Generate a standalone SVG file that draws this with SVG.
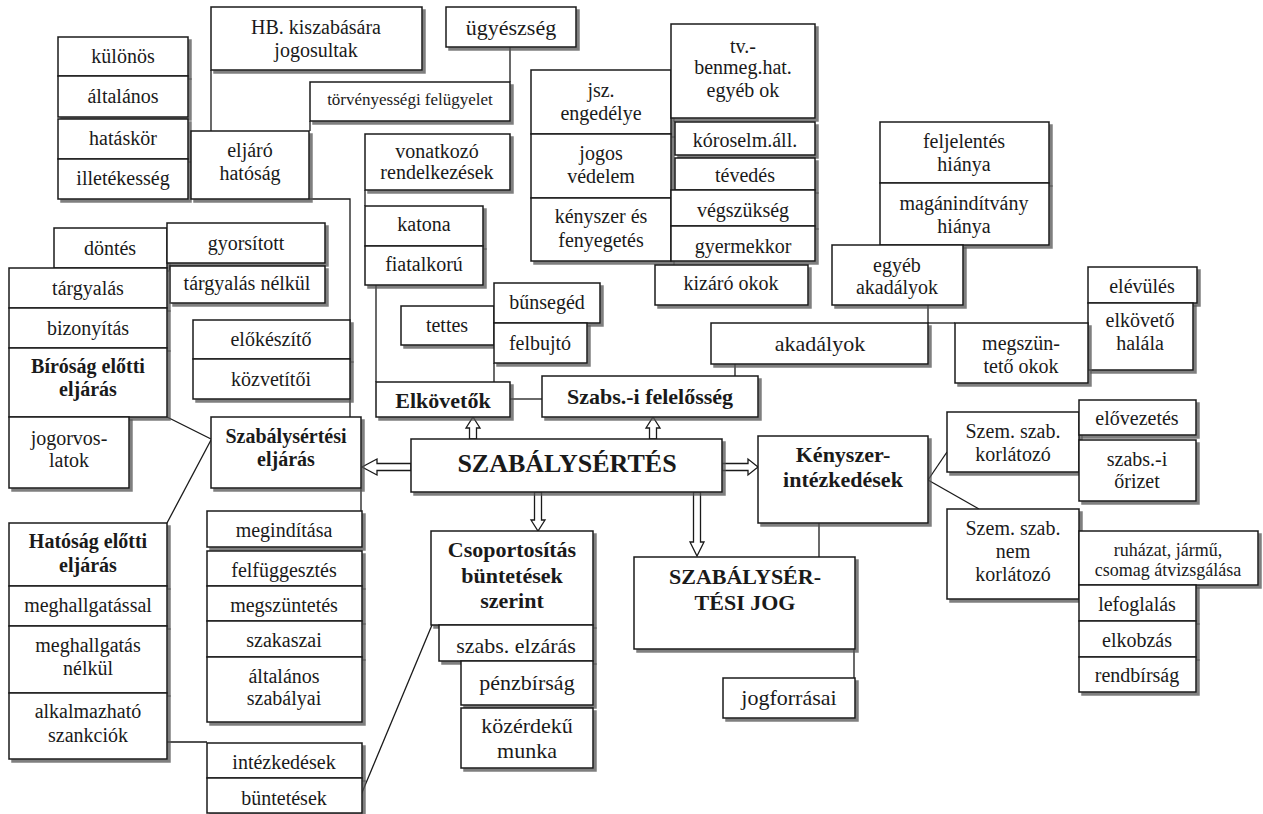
<svg xmlns="http://www.w3.org/2000/svg" width="1263" height="814" viewBox="0 0 1263 814">
<defs>
<filter id="sh" x="-5%" y="-5%" width="115%" height="130%">
<feDropShadow dx="3" dy="3" stdDeviation="0.6" flood-color="#555" flood-opacity="0.75"/>
</filter>
<style>
.b{fill:#fff;stroke:#1a1a1a;stroke-width:1.5;filter:url(#sh)}
.c line,.c polyline{stroke:#1a1a1a;stroke-width:1.3;fill:none}
.c polygon{fill:#fff;stroke:#1a1a1a;stroke-width:1.3}
text{font-family:"Liberation Serif","Times New Roman",serif;font-size:20px;fill:#1a1a1a;text-anchor:middle}
.l{font-size:22px}
.s{font-size:17px}
.m{font-size:18px}
.h{font-weight:bold}
.h2{font-weight:bold;font-size:22px}
.h3{font-weight:bold;font-size:26px}
</style>
</defs>
<rect width="1263" height="814" fill="#fff"/>
<g id="connectors" class="c">
<line x1="211" y1="70" x2="211" y2="131"/>
<line x1="510" y1="47" x2="510" y2="82"/>
<line x1="310" y1="121" x2="310" y2="131"/>
<polyline points="309,199 350,199 350,417"/>
<line x1="365" y1="190" x2="365" y2="206"/>
<line x1="376" y1="285" x2="376" y2="382"/>
<line x1="494" y1="363" x2="494" y2="382"/>
<line x1="510" y1="399" x2="542" y2="399"/>
<line x1="735" y1="364" x2="735" y2="376"/>
<line x1="928" y1="305" x2="928" y2="323"/>
<line x1="928" y1="323" x2="955" y2="323"/>
<line x1="167" y1="417" x2="211" y2="439"/>
<line x1="211" y1="440" x2="167" y2="523"/>
<line x1="361" y1="488" x2="361" y2="511"/>
<line x1="167" y1="742" x2="207" y2="742"/>
<line x1="361" y1="795" x2="432" y2="625"/>
<line x1="928" y1="480" x2="947" y2="452"/>
<line x1="928" y1="480" x2="979" y2="509"/>
<line x1="819" y1="523" x2="819" y2="557"/>
<line x1="854" y1="649" x2="854" y2="678"/>
<polygon points="411,463.5 377,463.5 377,459 362,467 377,475 377,470.5 411,470.5"/>
<polygon points="722,463.5 748,463.5 748,459 758,467 748,475 748,470.5 722,470.5"/>
<polygon points="469.5,439 469.5,428 466,428 473,417 480,428 476.5,428 476.5,439"/>
<polygon points="649.5,439 649.5,428 646,428 653,417 660,428 656.5,428 656.5,439"/>
<polygon points="534.5,492 534.5,520 531,520 538,531 545,520 541.5,520 541.5,492"/>
<polygon points="693.5,492 693.5,542 690,542 697,556 704,542 700.5,542 700.5,492"/>
</g>
<g id="n_hb"><rect class="b" x="211" y="7" width="211" height="63"/><text x="316" y="34">HB. kiszabására</text><text x="316" y="57">jogosultak</text></g>
<g id="n_ugyeszseg"><rect class="b" x="446" y="7" width="130" height="40"/><text class="l" x="511" y="35">ügyészség</text></g>
<g id="n_torv"><rect class="b" x="310" y="82" width="200" height="39"/><text class="s" x="410" y="105">törvényességi felügyelet</text></g>
<g id="n_kulonos"><rect class="b" x="58" y="37" width="130" height="39"/><text x="123" y="63">különös</text></g>
<g id="n_altalanos"><rect class="b" x="58" y="76" width="130" height="41"/><text x="123" y="103">általános</text></g>
<g id="n_hataskor"><rect class="b" x="58" y="119" width="130" height="40"/><text x="123" y="145">hatáskör</text></g>
<g id="n_illetekesseg"><rect class="b" x="58" y="159" width="130" height="40"/><text x="123" y="185">illetékesség</text></g>
<g id="n_eljaro"><rect class="b" x="191" y="131" width="118" height="68"/><text x="250" y="157">eljáró</text><text x="250" y="180">hatóság</text></g>
<g id="n_vonatkozo"><rect class="b" x="365" y="134" width="145" height="56"/><text x="437" y="158">vonatkozó</text><text x="437" y="179">rendelkezések</text></g>
<g id="n_katona"><rect class="b" x="365" y="206" width="118" height="40"/><text x="424" y="231">katona</text></g>
<g id="n_fiatalkoru"><rect class="b" x="365" y="246" width="118" height="39"/><text x="424" y="271">fiatalkorú</text></g>
<g id="n_jsz"><rect class="b" x="531" y="70" width="140" height="64"/><text x="601" y="97">jsz.</text><text x="601" y="120">engedélye</text></g>
<g id="n_jogos"><rect class="b" x="531" y="134" width="140" height="64"/><text x="601" y="160">jogos</text><text x="601" y="183">védelem</text></g>
<g id="n_kenyszer_fenyegetes"><rect class="b" x="531" y="198" width="140" height="63"/><text x="601" y="223">kényszer és</text><text x="601" y="247">fenyegetés</text></g>
<g id="n_tv"><rect class="b" x="671" y="24" width="144" height="94"/><text x="743" y="53">tv.-</text><text x="743" y="74">benmeg.hat.</text><text x="743" y="97">egyéb ok</text></g>
<g id="n_koros"><rect class="b" x="675" y="122" width="140" height="33"/><text x="745" y="147">kóroselm.áll.</text></g>
<g id="n_tevedes"><rect class="b" x="675" y="158" width="140" height="32"/><text x="745" y="182">tévedés</text></g>
<g id="n_vegszukseg"><rect class="b" x="671" y="190" width="144" height="36"/><text x="743" y="217">végszükség</text></g>
<g id="n_gyermekkor"><rect class="b" x="671" y="226" width="144" height="35"/><text x="743" y="253">gyermekkor</text></g>
<g id="n_kizaro"><rect class="b" x="655" y="265" width="153" height="40"/><text x="731" y="290">kizáró okok</text></g>
<g id="n_feljelentes"><rect class="b" x="880" y="122" width="169" height="61"/><text x="964" y="148">feljelentés</text><text x="964" y="171">hiánya</text></g>
<g id="n_maganinditvany"><rect class="b" x="880" y="183" width="169" height="62"/><text x="964" y="210">magánindítvány</text><text x="964" y="233">hiánya</text></g>
<g id="n_egyeb"><rect class="b" x="832" y="245" width="131" height="60"/><text x="897" y="272">egyéb</text><text x="897" y="294">akadályok</text></g>
<g id="n_elevules"><rect class="b" x="1088" y="267" width="109" height="36"/><text x="1142" y="293">elévülés</text></g>
<g id="n_elkoveto_halala"><rect class="b" x="1088" y="303" width="105" height="67"/><text x="1140" y="327">elkövető</text><text x="1140" y="350">halála</text></g>
<g id="n_megszunteto"><rect class="b" x="955" y="323" width="133" height="60"/><text x="1021" y="350">megszün-</text><text x="1021" y="373">tető okok</text></g>
<g id="n_akadalyok"><rect class="b" x="711" y="323" width="217" height="41"/><text class="l" x="820" y="351">akadályok</text></g>
<g id="n_szabsfelelosseg"><rect class="b" x="542" y="376" width="216" height="41"/><text class="h2" x="650" y="404">Szabs.-i felelősség</text></g>
<g id="n_tettes"><rect class="b" x="401" y="306" width="93" height="39"/><text x="447" y="332">tettes</text></g>
<g id="n_bunseged"><rect class="b" x="494" y="283" width="106" height="40"/><text x="547" y="309">bűnsegéd</text></g>
<g id="n_felbujto"><rect class="b" x="494" y="323" width="93" height="40"/><text x="540" y="350">felbujtó</text></g>
<g id="n_elkovetok"><rect class="b" x="376" y="382" width="134" height="35"/><text class="h2" x="443" y="408">Elkövetők</text></g>
<g id="n_dontes"><rect class="b" x="54" y="228" width="113" height="40"/><text x="110" y="255">döntés</text></g>
<g id="n_gyorsitott"><rect class="b" x="167" y="223" width="158" height="40"/><text x="246" y="250">gyorsított</text></g>
<g id="n_targyalas_nelkul"><rect class="b" x="170" y="266" width="155" height="37"/><text x="247" y="290">tárgyalás nélkül</text></g>
<g id="n_targyalas"><rect class="b" x="9" y="268" width="158" height="40"/><text x="88" y="295">tárgyalás</text></g>
<g id="n_bizonyitas"><rect class="b" x="9" y="308" width="158" height="40"/><text x="88" y="335">bizonyítás</text></g>
<g id="n_birosag"><rect class="b" x="9" y="348" width="158" height="69"/><text class="h" x="88" y="373">Bíróság előtti</text><text class="h" x="88" y="396">eljárás</text></g>
<g id="n_jogorvoslatok"><rect class="b" x="9" y="417" width="120" height="71"/><text x="69" y="445">jogorvos-</text><text x="69" y="467">latok</text></g>
<g id="n_elokeszito"><rect class="b" x="193" y="320" width="157" height="39"/><text x="271" y="346">előkészítő</text></g>
<g id="n_kozvetitoi"><rect class="b" x="193" y="359" width="157" height="40"/><text x="271" y="386">közvetítői</text></g>
<g id="n_szabalysertesi_eljaras"><rect class="b" x="211" y="417" width="150" height="71"/><text class="h" x="286" y="443">Szabálysértési</text><text class="h" x="286" y="466">eljárás</text></g>
<g id="n_szabalysertes"><rect class="b" x="411" y="439" width="311" height="53"/><text class="h3" x="567" y="472">SZABÁLYSÉRTÉS</text></g>
<g id="n_kenyszerintezkedesek"><rect class="b" x="758" y="436" width="170" height="87"/><text class="h2" x="843" y="462">Kényszer-</text><text class="h2" x="843" y="487">intézkedések</text></g>
<g id="n_szem_korl"><rect class="b" x="947" y="412" width="132" height="60"/><text x="1013" y="438">Szem. szab.</text><text x="1013" y="461">korlátozó</text></g>
<g id="n_elovezetes"><rect class="b" x="1079" y="400" width="117" height="35"/><text x="1137" y="425">elővezetés</text></g>
<g id="n_orizet"><rect class="b" x="1079" y="440" width="117" height="61"/><text x="1137" y="466">szabs.-i</text><text x="1137" y="488">őrizet</text></g>
<g id="n_szem_nem_korl"><rect class="b" x="947" y="509" width="132" height="90"/><text x="1013" y="535">Szem. szab.</text><text x="1013" y="558">nem</text><text x="1013" y="581">korlátozó</text></g>
<g id="n_ruhazat"><rect class="b" x="1079" y="531" width="179" height="54"/><text class="m" x="1168" y="556">ruházat, jármű,</text><text class="m" x="1168" y="576">csomag átvizsgálása</text></g>
<g id="n_lefoglalas"><rect class="b" x="1079" y="585" width="117" height="36"/><text x="1137" y="611">lefoglalás</text></g>
<g id="n_elkobzas"><rect class="b" x="1079" y="621" width="117" height="36"/><text x="1137" y="647">elkobzás</text></g>
<g id="n_rendbirsag"><rect class="b" x="1079" y="657" width="117" height="35"/><text x="1137" y="682">rendbírság</text></g>
<g id="n_csoportositas"><rect class="b" x="431" y="531" width="162" height="94"/><text class="h2" x="512" y="557">Csoportosítás</text><text class="h2" x="512" y="583">büntetések</text><text class="h2" x="512" y="608">szerint</text></g>
<g id="n_elzaras"><rect class="b" x="439" y="625" width="154" height="36"/><text class="l" x="516" y="653">szabs. elzárás</text></g>
<g id="n_penzbirsag"><rect class="b" x="461" y="661" width="132" height="44"/><text class="l" x="527" y="690">pénzbírság</text></g>
<g id="n_kozerdeku"><rect class="b" x="461" y="708" width="132" height="60"/><text class="l" x="527" y="733">közérdekű</text><text class="l" x="527" y="758">munka</text></g>
<g id="n_jog"><rect class="b" x="634" y="557" width="221" height="92"/><text class="h2" x="745" y="584">SZABÁLYSÉR-</text><text class="h2" x="745" y="610">TÉSI JOG</text></g>
<g id="n_jogforrasai"><rect class="b" x="723" y="678" width="132" height="40"/><text class="l" x="789" y="705">jogforrásai</text></g>
<g id="n_meginditasa"><rect class="b" x="207" y="511" width="155" height="36"/><text x="284" y="537">megindítása</text></g>
<g id="n_felfuggesztes"><rect class="b" x="207" y="551" width="155" height="35"/><text x="284" y="577">felfüggesztés</text></g>
<g id="n_megszuntetes"><rect class="b" x="207" y="586" width="155" height="35"/><text x="284" y="612">megszüntetés</text></g>
<g id="n_szakaszai"><rect class="b" x="207" y="621" width="155" height="36"/><text x="284" y="647">szakaszai</text></g>
<g id="n_altalanos_szabalyai"><rect class="b" x="207" y="657" width="155" height="65"/><text x="284" y="683">általános</text><text x="284" y="705">szabályai</text></g>
<g id="n_hatosag"><rect class="b" x="9" y="523" width="158" height="63"/><text class="h" x="88" y="548">Hatóság előtti</text><text class="h" x="88" y="572">eljárás</text></g>
<g id="n_meghallgatassal"><rect class="b" x="9" y="586" width="158" height="40"/><text x="88" y="612">meghallgatással</text></g>
<g id="n_meghallgatas_nelkul"><rect class="b" x="9" y="626" width="158" height="67"/><text x="88" y="652">meghallgatás</text><text x="88" y="675">nélkül</text></g>
<g id="n_alkalmazhato"><rect class="b" x="9" y="693" width="158" height="66"/><text x="88" y="718">alkalmazható</text><text x="88" y="742">szankciók</text></g>
<g id="n_intezkedesek"><rect class="b" x="207" y="743" width="155" height="35"/><text x="284" y="769">intézkedések</text></g>
<g id="n_buntetesek"><rect class="b" x="207" y="778" width="155" height="35"/><text x="284" y="805">büntetések</text></g>
</svg>
